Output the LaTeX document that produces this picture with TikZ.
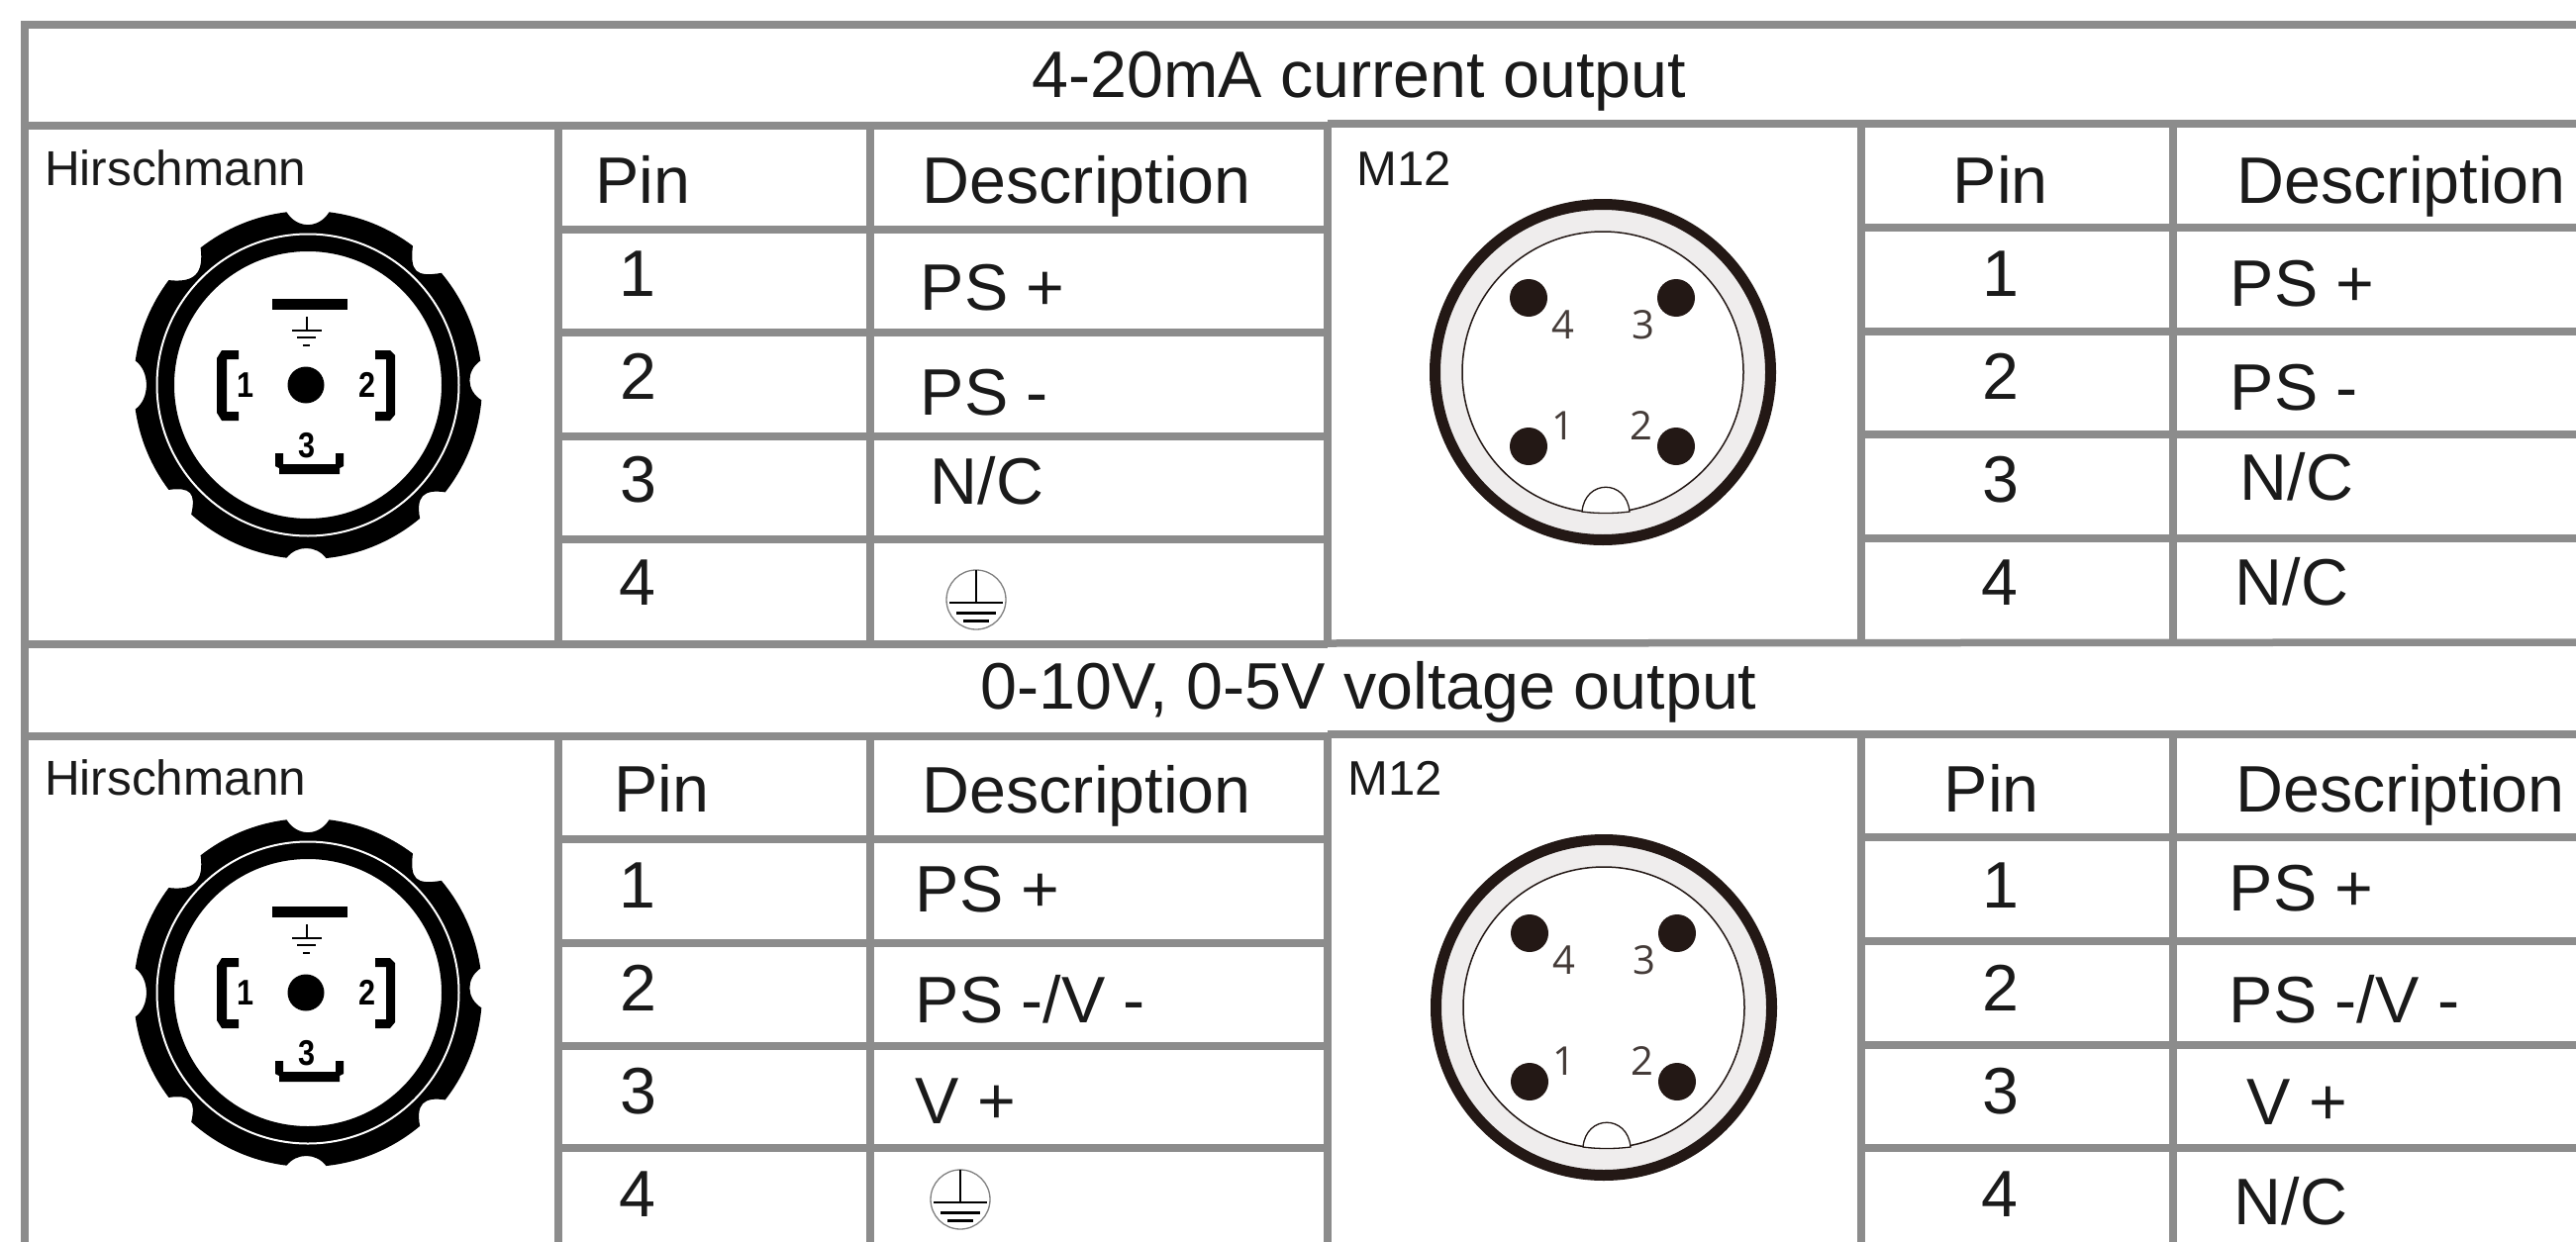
\documentclass[tikz,border=0pt]{standalone}
\usepackage{fontspec}
\setmainfont{Liberation Sans}
\newfontfamily\lightfont{Open Sans}
\definecolor{rule}{HTML}{8C8C8C}
\definecolor{ink}{HTML}{1A1A1A}
\definecolor{conn}{HTML}{231815}
\definecolor{ringc}{HTML}{EFEDED}
\tikzset{
  lab/.style={anchor=base west,inner sep=0pt,xshift=1.5pt,text=ink,font=\fontsize{66.4}{70}\selectfont},
  num/.style={anchor=base,inner sep=0pt,xshift=1.5pt,text=ink,font=\fontsize{66.4}{70}\selectfont},
  small/.style={anchor=base west,inner sep=0pt,text=ink,font=\fontsize{49.5}{52}\selectfont},
  smallm/.style={anchor=base west,inner sep=0pt,text=ink,font=\fontsize{49}{50}\selectfont},
  hnum/.style={inner sep=0pt,text=black,xscale=.85,font=\fontsize{36}{38}\selectfont\bfseries},
  mnum/.style={inner sep=0pt,text=conn!85,font=\lightfont\fontsize{40}{42}\selectfont},
  gridline/.style={draw=rule,line width=7.5pt},
  hirschmann/.pic={
    \begin{scope}[y=1pt]
      \fill[black,even odd rule]
        (-5:176pt) .. controls (-2:160pt) and (5:160pt) .. (8:176pt)
        arc[start angle=8,end angle=40,radius=176pt]
        .. controls (45:154pt) and (48:154pt) .. (53:176pt)
        arc[start angle=53,end angle=83,radius=176pt]
        .. controls (86:158pt) and (94:158pt) .. (97:176pt)
        arc[start angle=97,end angle=128,radius=176pt]
        .. controls (133:154pt) and (138:154pt) .. (143:176pt)
        arc[start angle=143,end angle=172,radius=176pt]
        .. controls (175:160pt) and (185:160pt) .. (188:176pt)
        arc[start angle=188,end angle=217,radius=176pt]
        .. controls (221:157pt) and (224:157pt) .. (228:176pt)
        arc[start angle=228,end angle=263,radius=176pt]
        .. controls (266:162pt) and (273:162pt) .. (276:176pt)
        arc[start angle=276,end angle=310,radius=176pt]
        .. controls (314:157pt) and (318:157pt) .. (322:176pt)
        arc[start angle=322,end angle=355,radius=176pt]
        -- cycle
        (0,0) circle[radius=135pt];
    \end{scope}
    \draw[white,line width=2pt] (0,0) circle[radius=152.5pt];
    \fill[black] (-2,0) circle[radius=18.5pt];
    \fill[black] (-36,-87) rectangle (40,-76);
    \draw[black,line width=1.6pt] (-1,-69) -- (-1,-55);
    \draw[black,line width=2pt] (-16,-55) -- (14,-55);
    \draw[black,line width=2pt] (-11,-48) -- (8,-48);
    \draw[black,line width=2.4pt] (-5,-40) -- (2,-40);
    \fill[black] (-70,-35) -- (-87,-35) -- (-92,-27) -- (-92,28) -- (-87,36) -- (-70,36)
      -- (-70,27) -- (-82,27) -- (-82,-26) -- (-70,-26) -- cycle;
    \fill[black] (68,-35) -- (83,-35) -- (88,-30) -- (88,30) -- (83,36) -- (68,36)
      -- (68,27) -- (79,27) -- (79,-26) -- (68,-26) -- cycle;
    \fill[black] (-33,69) -- (-25,69) -- (-25,80) -- (28,80) -- (28,69) -- (36,69)
      -- (36,82) -- (32,84) -- (32,90) -- (-29,90) -- (-29,84) -- (-33,82) -- cycle;
    \node[hnum] (-h1) at (-63,0) {1};
    \node[hnum] (-h2) at (60,0) {2};
    \node[hnum] (-h3) at (-1,61) {3};
  },
  mtwelve/.pic={
    \fill[ringc] (0,0) circle[radius=170pt];
    \draw[conn,line width=11pt] (0,0) circle[radius=169.5pt];
    \fill[white] (0,0) circle[radius=142pt];
    \draw[conn,line width=1.5pt] (0,0) circle[radius=142pt];
    \fill[white,draw=conn,line width=1.3pt] (-21,141) .. controls (-18,108) and (24,108) .. (27,141) .. controls (12,143) and (-6,143) .. (-21,141) -- cycle;
    \fill[conn] (-75,-75) circle[radius=19pt];
    \fill[conn] (74,-75) circle[radius=19pt];
    \fill[conn] (-75,75) circle[radius=19pt];
    \fill[conn] (74,75) circle[radius=19pt];
    \node[mnum] (-m4) at (-40,-48) {4};
    \node[mnum] (-m3) at (41,-48) {3};
    \node[mnum] (-m1) at (-40,54) {1};
    \node[mnum] (-m2) at (39,54) {2};
  },
  earth/.pic={
    \draw[gray,line width=1.3pt] (0,0) circle[radius=30pt];
    \draw[black,line width=2.4pt] (0,-30) -- (0,3);
    \draw[black,line width=2.8pt] (-27,3) -- (27,3);
    \draw[black,line width=3pt] (-20,13) -- (20,13);
    \draw[black,line width=3pt] (-13,21) -- (13,21);
  },
}
\begin{document}
\begin{tikzpicture}[x=1pt,y=-1pt]
\useasboundingbox (0,0) rectangle (2602,1255);
\clip (0,0) rectangle (2602,1255);
% grid: upper block
\draw[gridline] (21,25) -- (2602,25);
\draw[gridline] (25,127) -- (1341,127);
\draw[gridline] (1341,125) -- (2602,125);
\draw[gridline] (21,651) -- (1341,651);
\draw[gridline] (1341,650) -- (2602,649);
\foreach \yy in {232,336,441,545} \draw[gridline] (564,\yy) -- (1341,\yy);
\foreach \yy in {230,335,439,544} \draw[gridline] (1880,\yy) -- (2602,\yy);
% grid: lower block
\draw[gridline] (21,744) -- (1341,744);
\draw[gridline] (1341,742) -- (2602,742);
\foreach \yy in {848,953,1057,1160} \draw[gridline] (564,\yy) -- (1341,\yy);
\foreach \yy in {846,951,1056,1160} \draw[gridline] (1880,\yy) -- (2602,\yy);
% verticals
\draw[gridline] (25,21) -- (25,1255);
\foreach \xx in {564,879,1341,1880,2195} {
  \draw[gridline] (\xx,127) -- (\xx,651);
  \draw[gridline] (\xx,744) -- (\xx,1255);
}
% titles
\node[lab] (title1) at (1041,99) {4-20mA current output};
\node[lab] (title2) at (989,716) {0-10V, 0-5V voltage output};
% upper left table
\node[small] (hs1) at (45,187) {Hirschmann};
\pic (hc1) at (311,389) {hirschmann};
\node[lab] (a0) at (600,205) {Pin};
\node[lab] (b0) at (930,205) {Description};
\node[num] (a1) at (642,299) {1};
\node[num] (a2) at (643,403) {2};
\node[num] (a3) at (643,507) {3};
\node[num] (a4) at (642,611) {4};
\node[lab] (b1) at (928,313) {PS +};
\node[lab] (b2) at (928,419) {PS -};
\node[lab] (b3) at (938,509) {N/C};
\pic (e1) at (986,606) {earth};
% upper right table
\node[smallm] (m1) at (1370,187) {M12};
\pic (mc1) at (1619,376) {mtwelve};
\node[lab] (c0) at (1971,205) {Pin};
\node[lab] (d0) at (2258,205) {Description};
\node[num] (c1) at (2019,299) {1};
\node[num] (c2) at (2019,403) {2};
\node[num] (c3) at (2019,507) {3};
\node[num] (c4) at (2018,611) {4};
\node[lab] (d1) at (2251,309) {PS +};
\node[lab] (d2) at (2251,414) {PS -};
\node[lab] (d3) at (2261,505) {N/C};
\node[lab] (d4) at (2256,611) {N/C};
% lower left table
\node[small] (hs2) at (45,803) {Hirschmann};
\pic (hc2) at (311,1003) {hirschmann};
\node[lab] (e0) at (619,820) {Pin};
\node[lab] (f0) at (930,821) {Description};
\node[num] (e1n) at (642,917) {1};
\node[num] (e2n) at (643,1021) {2};
\node[num] (e3n) at (643,1125) {3};
\node[num] (e4n) at (642,1229) {4};
\node[lab] (f1) at (923,921) {PS +};
\node[lab] (f2) at (923,1033) {PS -/V -};
\node[lab] (f3) at (923,1135) {V +};
\pic (e2) at (970,1212) {earth};
% lower right table
\node[smallm] (m2) at (1361,803) {M12};
\pic (mc2) at (1620,1018) {mtwelve};
\node[lab] (g0) at (1962,820) {Pin};
\node[lab] (h0) at (2257,820) {Description};
\node[num] (g1) at (2019,917) {1};
\node[num] (g2) at (2019,1021) {2};
\node[num] (g3) at (2019,1125) {3};
\node[num] (g4) at (2018,1229) {4};
\node[lab] (h1) at (2250,920) {PS +};
\node[lab] (h2) at (2250,1033) {PS -/V -};
\node[lab] (h3) at (2268,1136) {V +};
\node[lab] (h4) at (2255,1237) {N/C};
\end{tikzpicture}
\end{document}
